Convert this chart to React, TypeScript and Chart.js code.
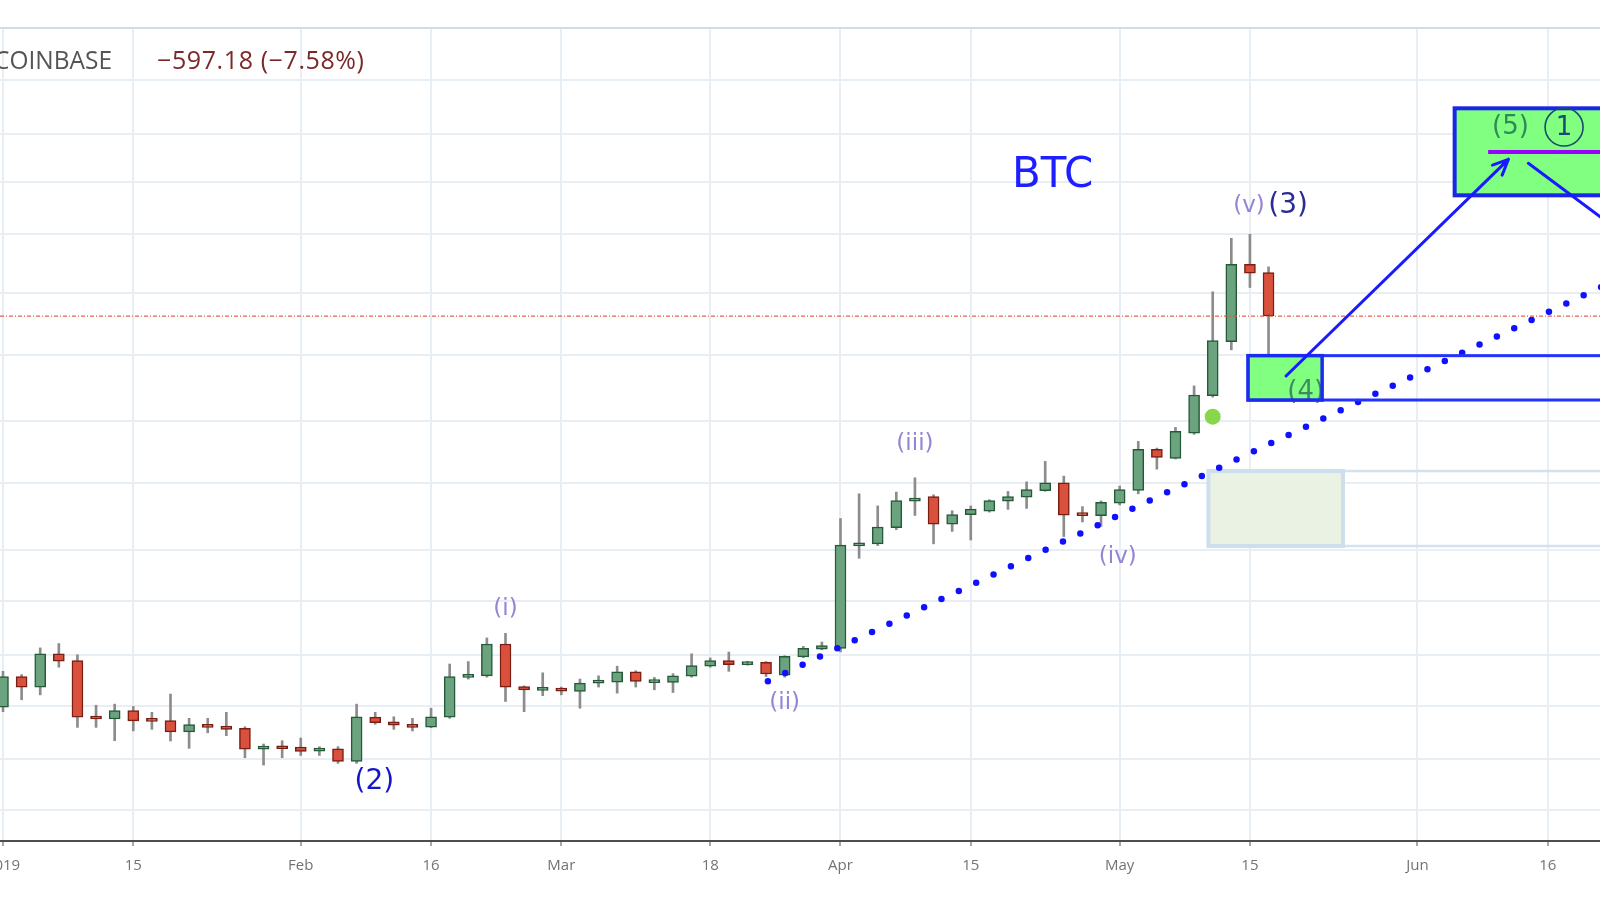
import React, { useEffect, useRef } from "react";
import { Chart, registerables } from "chart.js";

Chart.register(...registerables);

// ---- 2-day BTC/USD candles (Coinbase), Jan 1 2019 .. May 17 2019 ----
const opens = [
  3736, 3936, 3866, 4091, 4045, 3675, 3661, 3714, 3655, 3651,
  3581, 3626, 3617, 3603, 3478, 3492, 3490, 3466, 3480, 3405,
  3673, 3643, 3628, 3611, 3672, 3930, 3941, 4161, 3870, 3844,
  3848, 3837, 3892, 3899, 3967, 3895, 3897, 3939, 4006, 4045,
  4017, 4033, 3946, 4070, 4125, 4130, 4919, 4936, 5075, 5309,
  5351, 5104, 5188, 5220, 5309, 5346, 5405, 5478, 5190, 5179,
  5290, 5408, 5799, 5711, 5961, 6355, 6970, 7954, 7840,
];
const highs = [
  3971, 3949, 4133, 4164, 4085, 3748, 3755, 3740, 3703, 3820,
  3665, 3665, 3703, 3613, 3508, 3528, 3544, 3492, 3492, 3755,
  3703, 3675, 3665, 3729, 4021, 4038, 4204, 4237, 3874, 3961,
  3866, 3919, 3941, 4006, 3975, 3930, 3955, 4092, 4063, 4104,
  4040, 4038, 4078, 4144, 4175, 5154, 5376, 5266, 5392, 5525,
  5367, 5223, 5266, 5322, 5398, 5487, 5682, 5541, 5260, 5311,
  5447, 5879, 5812, 6021, 6463, 7588, 8314, 8371, 7918,
];
const lows = [
  3707, 3783, 3815, 3999, 3609, 3609, 3528, 3587, 3597, 3526,
  3482, 3576, 3558, 3427, 3384, 3427, 3440, 3440, 3394, 3394,
  3628, 3597, 3587, 3607, 3665, 3919, 3932, 3772, 3707, 3810,
  3815, 3729, 3866, 3826, 3866, 3848, 3830, 3932, 3999, 3971,
  4013, 3936, 3932, 4065, 4120, 4105, 4816, 4922, 5057, 5181,
  4936, 5042, 4969, 5211, 5235, 5244, 5399, 4998, 5124, 5086,
  5275, 5376, 5607, 5705, 5950, 6340, 6872, 7644, 6611,
];
const closes = [
  3936, 3866, 4091, 4040, 3672, 3661, 3714, 3649, 3646, 3581,
  3626, 3609, 3597, 3478, 3486, 3480, 3464, 3478, 3405, 3675,
  3638, 3622, 3609, 3675, 3936, 3941, 4161, 3866, 3848, 3853,
  3839, 3892, 3901, 3967, 3903, 3903, 3941, 4010, 4045, 4017,
  4036, 3953, 4074, 4130, 4149, 4926, 4944, 5080, 5315, 5336,
  5104, 5188, 5238, 5315, 5351, 5415, 5478, 5184, 5179, 5298,
  5415, 5799, 5721, 5982, 6363, 6982, 7954, 7832, 7281,
];

// x axis: bar index of each date label
const tickIndex = [0, 7, 16, 23, 30, 38, 45, 52, 60, 67, 76, 83];
const tickLabels = ["2019", "15", "Feb", "16", "Mar", "18", "Apr", "15", "May", "15", "Jun", "16"];
// horizontal price grid levels (log scale)
const gridPrices = [3134, 3419, 3743, 4082, 4477, 4884, 5475, 6086, 6812, 7572, 8375, 9151, 9933, 10892];
const priceMin = 2973;
const priceMax = 11902;
const xMin = -0.161;
const xMax = 85.81;

// drawing annotations (data coordinates: bar index, price)
const trendX = [41.1, 85.9];
const trendY = [3905, 7653];
const lastPrice = 7281;
const headerSymbol = "COINBASE";
const headerChange = "\u2212597.18 (\u22127.58%)";
const faintBox = { x0: 64.77, x1: 72.0, top: 5589, bottom: 4918 };
const wave4Box = { x0: 66.9, x1: 70.88, top: 6805, bottom: 6309 };
const wave5Box = { x0: 78.0, top: 10378, bottom: 8946 };
const purpleLevel = { x0: 79.8, price: 9633 };
const arrowUp = { x0: 68.94, y0: 6573, x1: 80.89, y1: 9513 };
const lineDown = { x0: 81.96, y0: 9449, x1: 85.9, y1: 8610 };
const greenDot = { x: 65, y: 6132 };
const circleOne = { x: 83.88, y: 10052 };
const waveLabels = [
  { t: "(i)", x: 27, y: 4417, kind: "minor" },
  { t: "(ii)", x: 42, y: 3762, kind: "minor" },
  { t: "(iii)", x: 49, y: 5853, kind: "minor" },
  { t: "(iv)", x: 59.9, y: 4826, kind: "minor" },
  { t: "(v)", x: 66.95, y: 8785, kind: "minor" },
  { t: "(3)", x: 69.05, y: 8785, kind: "major3" },
  { t: "(2)", x: 19.95, y: 3287, kind: "major2" },
];
const wave4Label = { t: "(4)", x: 70.0, y: 6396 };
const wave5Label = { t: "(5)", x: 81.0, y: 10052 };
const titleLabel = { t: "BTC", x: 56.4, y: 9246 };

const GREEN_FILL = "#6aa37e";
const GREEN_EDGE = "#245a38";
const RED_FILL = "#d9503c";
const RED_EDGE = "#7a1d12";
const GRID = "#e7eef4";

const idx = opens.map((_, i) => i);

const overlayPlugin = {
  id: "overlay",
  beforeDatasetsDraw(chart: any) {
    const { ctx, chartArea: a } = chart;
    const X = (v: number) => chart.scales.x.getPixelForValue(v);
    const Y = (v: number) => chart.scales.y.getPixelForValue(v);
    ctx.save();
    // top border
    ctx.strokeStyle = "#d4dbe1";
    ctx.lineWidth = 2;
    ctx.beginPath();
    ctx.moveTo(a.left, a.top);
    ctx.lineTo(a.right, a.top);
    ctx.stroke();
    ctx.beginPath();
    ctx.rect(a.left, a.top, a.right - a.left, a.bottom - a.top);
    ctx.clip();
    // faint zone: long rail + filled box
    const fx0 = X(faintBox.x0), fx1 = X(faintBox.x1), ft = Y(faintBox.top), fb = Y(faintBox.bottom);
    ctx.strokeStyle = "#d3e2ee";
    ctx.lineWidth = 2.5;
    ctx.strokeRect(fx0, ft, a.right + 20 - fx0, fb - ft);
    ctx.fillStyle = "#eaf2e4";
    ctx.fillRect(fx0, ft, fx1 - fx0, fb - ft);
    ctx.strokeStyle = "#cddfec";
    ctx.lineWidth = 4;
    ctx.strokeRect(fx0, ft, fx1 - fx0, fb - ft);
    ctx.restore();
  },
  afterDatasetsDraw(chart: any) {
    const { ctx, chartArea: a } = chart;
    const X = (v: number) => chart.scales.x.getPixelForValue(v);
    const Y = (v: number) => chart.scales.y.getPixelForValue(v);
    ctx.save();
    ctx.beginPath();
    ctx.rect(a.left, a.top, a.right - a.left, a.bottom - a.top);
    ctx.clip();

    // last price line
    ctx.strokeStyle = "rgba(226,80,60,0.9)";
    ctx.lineWidth = 1.2;
    ctx.setLineDash([4, 2, 1, 2]);
    ctx.beginPath();
    ctx.moveTo(a.left, Y(lastPrice));
    ctx.lineTo(a.right, Y(lastPrice));
    ctx.stroke();
    ctx.setLineDash([]);

    // header
    ctx.textBaseline = "middle";
    ctx.font = '25px "Open Sans"';
    ctx.fillStyle = "#555555";
    ctx.textAlign = "right";
    ctx.fillText(headerSymbol, 112, 62, 118);
    ctx.fillStyle = "#7a2a2a";
    ctx.textAlign = "left";
    (ctx as any).letterSpacing = "0.6px";
    ctx.fillText(headerChange, 157, 62);
    (ctx as any).letterSpacing = "0px";

    // wave (4) zone
    const bx0 = X(wave4Box.x0), bx1 = X(wave4Box.x1), bt = Y(wave4Box.top), bb = Y(wave4Box.bottom);
    ctx.strokeStyle = "#2233ff";
    ctx.lineWidth = 3;
    ctx.strokeRect(bx0, bt, a.right + 20 - bx0, bb - bt);
    ctx.fillStyle = "#80ff80";
    ctx.fillRect(bx0, bt, bx1 - bx0, bb - bt);
    ctx.font = '26px "DejaVu Sans"';
    ctx.fillStyle = "rgba(40,100,90,0.75)";
    ctx.textAlign = "center";
    ctx.fillText(wave4Label.t, X(wave4Label.x), Y(wave4Label.y));
    ctx.strokeStyle = "#1b2cf0";
    ctx.lineWidth = 3.5;
    ctx.strokeRect(bx0, bt, bx1 - bx0, bb - bt);

    // wave (5) target zone
    const tx0 = X(wave5Box.x0), tt = Y(wave5Box.top), tb = Y(wave5Box.bottom);
    ctx.fillStyle = "#80ff80";
    ctx.fillRect(tx0, tt, a.right + 20 - tx0, tb - tt);
    ctx.strokeStyle = "#1a25e8";
    ctx.lineWidth = 4;
    ctx.strokeRect(tx0, tt, a.right + 20 - tx0, tb - tt);
    ctx.strokeStyle = "#9a00ff";
    ctx.lineWidth = 4;
    ctx.beginPath();
    ctx.moveTo(X(purpleLevel.x0), Y(purpleLevel.price));
    ctx.lineTo(a.right, Y(purpleLevel.price));
    ctx.stroke();
    ctx.font = '26px "DejaVu Sans"';
    ctx.fillStyle = "#2f8a58";
    ctx.fillText(wave5Label.t, X(wave5Label.x), Y(wave5Label.y));
    ctx.strokeStyle = "#1b4a70";
    ctx.lineWidth = 1.6;
    ctx.beginPath();
    ctx.arc(X(circleOne.x), Y(circleOne.y), 19, 0, Math.PI * 2);
    ctx.stroke();
    ctx.fillStyle = "#1b4a70";
    ctx.font = '26px "DejaVu Sans"';
    ctx.fillText("1", X(circleOne.x), Y(circleOne.y) + 1);

    // arrows
    ctx.strokeStyle = "#1a1aff";
    ctx.lineWidth = 3;
    ctx.lineCap = "round";
    const ax0 = X(arrowUp.x0), ay0 = Y(arrowUp.y0), ax1 = X(arrowUp.x1), ay1 = Y(arrowUp.y1);
    ctx.beginPath();
    ctx.moveTo(ax0, ay0);
    ctx.lineTo(ax1, ay1);
    const ang = Math.atan2(ay1 - ay0, ax1 - ax0);
    const hl = 17, spread = 0.42;
    ctx.moveTo(ax1, ay1);
    ctx.lineTo(ax1 - hl * Math.cos(ang - spread), ay1 - hl * Math.sin(ang - spread));
    ctx.moveTo(ax1, ay1);
    ctx.lineTo(ax1 - hl * Math.cos(ang + spread), ay1 - hl * Math.sin(ang + spread));
    ctx.stroke();
    ctx.beginPath();
    ctx.moveTo(X(lineDown.x0), Y(lineDown.y0));
    ctx.lineTo(X(lineDown.x1), Y(lineDown.y1));
    ctx.stroke();

    // green dot
    ctx.fillStyle = "#88d64a";
    ctx.beginPath();
    ctx.arc(X(greenDot.x), Y(greenDot.y), 8, 0, Math.PI * 2);
    ctx.fill();

    // wave labels
    ctx.textAlign = "center";
    for (const l of waveLabels) {
      if (l.kind === "minor") {
        ctx.font = '23px "DejaVu Sans"';
        ctx.fillStyle = "#9384d6";
      } else if (l.kind === "major3") {
        ctx.font = '28px "DejaVu Sans"';
        ctx.fillStyle = "#2b2b96";
      } else {
        ctx.font = '28px "DejaVu Sans"';
        ctx.fillStyle = "#1616c8";
      }
      ctx.fillText(l.t, X(l.x), Y(l.y));
    }
    ctx.font = '42px "DejaVu Sans"';
    ctx.fillStyle = "#1e1eff";
    ctx.fillText(titleLabel.t, X(titleLabel.x), Y(titleLabel.y));
    ctx.restore();
  },
};

export default function App() {
  const ref = useRef<HTMLCanvasElement | null>(null);
  useEffect(() => {
    if (!ref.current) return;
    const wicks = idx.map((i) => ({ x: i, y: [lows[i], highs[i]] }));
    const bodies = idx.map((i) => ({ x: i, y: [opens[i], closes[i]] }));
    const up = idx.map((i) => closes[i] >= opens[i]);
    const chart = new Chart(ref.current, {
      type: "bar",
      data: {
        datasets: [
          {
            type: "line",
            data: trendX.map((x, k) => ({ x, y: trendY[k] })),
            borderColor: "#1010ff",
            borderWidth: 6.5,
            borderDash: [0, 19.2],
            borderCapStyle: "round",
            pointRadius: 0,
            tension: 0,
            order: 0,
          } as any,
          {
            type: "bar",
            data: bodies,
            backgroundColor: up.map((u) => (u ? GREEN_FILL : RED_FILL)),
            borderColor: up.map((u) => (u ? GREEN_EDGE : RED_EDGE)),
            borderWidth: 1.5,
            borderSkipped: false,
            barThickness: 11,
            minBarLength: 3,
            grouped: false,
            order: 1,
          } as any,
          {
            type: "bar",
            data: wicks,
            backgroundColor: "#8c8c8c",
            borderWidth: 0,
            barThickness: 2,
            grouped: false,
            order: 2,
          } as any,
        ],
      },
      options: {
        animation: false,
        responsive: false,
        devicePixelRatio: 1,
        layout: { padding: { top: 28, left: 0, right: 0, bottom: 0 }, autoPadding: false } as any,
        plugins: { legend: { display: false }, tooltip: { enabled: false } },
        scales: {
          x: {
            type: "linear",
            min: xMin,
            max: xMax,
            bounds: "data",
            offset: false,
            grid: { color: GRID, lineWidth: 2, offset: false, tickLength: 5, tickColor: "#8a8a8a", tickWidth: 1.5 } as any,
            border: { display: true, color: "#4d4d4d", width: 2 },
            afterBuildTicks: (s: any) => {
              s.ticks = tickIndex.map((v) => ({ value: v }));
            },
            afterFit: (s: any) => {
              s.height = 59;
              s.paddingLeft = 0;
              s.paddingRight = 0;
            },
            ticks: {
              autoSkip: false,
              maxRotation: 0,
              padding: 11,
              color: "#737373",
              font: { family: "Open Sans", size: 15 },
              callback: (v: any) => {
                const k = tickIndex.indexOf(Number(v));
                return k >= 0 ? tickLabels[k] : "";
              },
            },
          } as any,
          y: {
            type: "logarithmic",
            min: priceMin,
            max: priceMax,
            bounds: "data",
            position: "left",
            grid: { color: GRID, lineWidth: 2, drawTicks: false },
            border: { display: false },
            afterBuildTicks: (s: any) => {
              s.ticks = gridPrices.map((v) => ({ value: v }));
            },
            afterFit: (s: any) => {
              s.width = 0;
              s.paddingTop = 0;
              s.paddingBottom = 0;
            },
            ticks: { display: false },
          } as any,
        },
      },
      plugins: [overlayPlugin],
    });
    return () => chart.destroy();
  }, []);
  return (
    <div style={{ position: "fixed", left: 0, top: 0, width: 1600, height: 900, background: "#ffffff" }}>
      <canvas ref={ref} width={1600} height={900} style={{ display: "block", width: 1600, height: 900 }} />
    </div>
  );
}
